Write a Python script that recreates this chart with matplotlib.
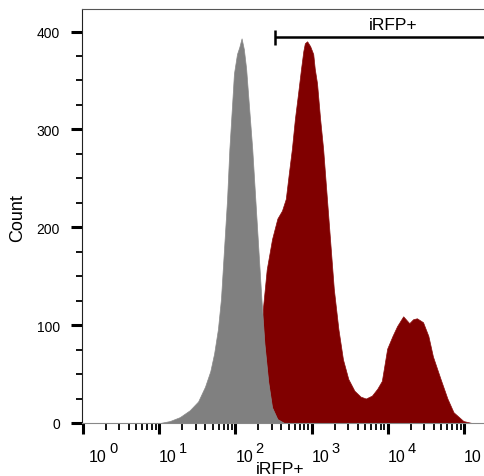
import matplotlib
matplotlib.use("Agg")
import matplotlib.pyplot as plt
from matplotlib.ticker import LogLocator, MultipleLocator, NullFormatter

plt.rcParams['font.family'] = ['Liberation Sans', 'DejaVu Sans']

# control sample (grey), log10 of iRFP intensity and counts
ctrl_log = [1.01, 1.14, 1.27, 1.40, 1.51, 1.60, 1.67, 1.72, 1.77, 1.81, 1.85, 1.89,
            1.92, 1.96, 1.98, 2.02, 2.05, 2.08, 2.11, 2.14, 2.18, 2.22, 2.26, 2.30,
            2.34, 2.38, 2.43, 2.48, 2.55, 2.64]
ctrl_count = [0, 2, 6, 13, 22, 37, 53, 71, 96, 127, 178, 229,
              280, 331, 357, 377, 384, 393, 382, 362, 321, 280, 229, 178,
              127, 81, 42, 16, 4, 0]

# iRFP sample (dark red)
irfp_log = [1.20, 1.80, 2.06, 2.19, 2.27, 2.32, 2.36, 2.41, 2.48, 2.55, 2.61, 2.66,
            2.70, 2.74, 2.78, 2.82, 2.86, 2.89, 2.91, 2.94, 2.98, 3.02, 3.04, 3.07,
            3.11, 3.15, 3.19, 3.24, 3.29, 3.35, 3.41, 3.48, 3.56, 3.64, 3.71, 3.79,
            3.86, 3.92, 3.99, 4.06, 4.12, 4.20, 4.28, 4.33, 4.38, 4.46, 4.53, 4.59,
            4.69, 4.78, 4.86, 4.99, 5.10]
irfp_count = [0, 1, 1, 9, 35, 76, 117, 157, 188, 209, 217, 229,
              255, 280, 311, 336, 362, 380, 388, 390, 385, 377, 362, 347,
              311, 280, 239, 188, 137, 96, 65, 45, 33, 27, 25, 28,
              35, 43, 76, 89, 99, 109, 102, 106, 107, 103, 89, 68,
              45, 25, 11, 2, 0]

decades = [0, 1, 2, 3, 4, 5]
yticks = [0, 100, 200, 300, 400]

gate_start = 330
gate_y = 394
gate_label = 'iRFP+'

fig = plt.figure(figsize=(4.84, 4.77), dpi=100)
ax = fig.add_axes([82 / 484, 1 - 424 / 477, (484 - 82) / 484, (424 - 10) / 477])

ax.set_xscale('log')
ax.fill_between([10 ** v for v in irfp_log], irfp_count, color='#800000', lw=0.5,
                edgecolor='#8a1010', zorder=2)
ax.fill_between([10 ** v for v in ctrl_log], ctrl_count, color='#808080', lw=0.5,
                edgecolor='#8a8a8a', zorder=3)

ax.set_xlim(10 ** -0.013, 10 ** 5.26)
ax.set_ylim(0, 423)

# gate bar
ax.plot([gate_start, 10 ** 5.4], [gate_y, gate_y], color='black', lw=1.8,
        solid_capstyle='butt', clip_on=True, zorder=4)
ax.plot([gate_start, gate_start], [gate_y - 8, gate_y + 8], color='black', lw=1.8,
        solid_capstyle='butt', zorder=4)
ax.text(10 ** 4.07, 407, gate_label, ha='center', va='center', fontsize=12.5)

# axes look
ax.spines['right'].set_visible(False)
ax.spines['top'].set_color('#555555')
ax.spines['top'].set_linewidth(0.8)
ax.spines['left'].set_color('#222222')
ax.spines['left'].set_linewidth(0.8)
ax.spines['bottom'].set_color('#888888')
ax.spines['bottom'].set_linewidth(0.8)

ax.xaxis.set_major_locator(LogLocator(base=10, numticks=10))
ax.xaxis.set_minor_locator(LogLocator(base=10, subs=range(2, 10), numticks=20))
ax.xaxis.set_major_formatter(NullFormatter())
ax.xaxis.set_minor_formatter(NullFormatter())
ax.tick_params(axis='x', which='major', direction='out', length=8, width=2.2, color='black')
ax.tick_params(axis='x', which='minor', direction='out', length=5, width=1.3, color='black')

ax.set_yticks(yticks)
ax.yaxis.set_minor_locator(MultipleLocator(25))
ax.tick_params(axis='y', which='major', direction='out', length=8, width=2.2,
               color='black', labelsize=10, pad=8)
ax.tick_params(axis='y', which='minor', direction='out', length=4, width=1.3, color='black')

# decade labels, drawn as "10" plus a raised exponent
for d in decades:
    off = 6 if d == 0 else 0
    ax.annotate('10', xy=(10 ** d, 0), xycoords=('data', 'axes fraction'),
                xytext=(off, -38), textcoords='offset pixels',
                ha='left', va='baseline', fontsize=11.5, annotation_clip=False)
    ax.annotate(str(d), xy=(10 ** d, 0), xycoords=('data', 'axes fraction'),
                xytext=(off + 20, -29), textcoords='offset pixels',
                ha='left', va='baseline', fontsize=10.5, annotation_clip=False)

fig.text(280 / 484, 1 - 470 / 477, 'iRFP+', ha='center', va='center', fontsize=12.5)
fig.text(18 / 484, 1 - 218 / 477, 'Count', ha='center', va='center', fontsize=13,
         rotation=90)

fig.savefig('out.png', dpi=100)
